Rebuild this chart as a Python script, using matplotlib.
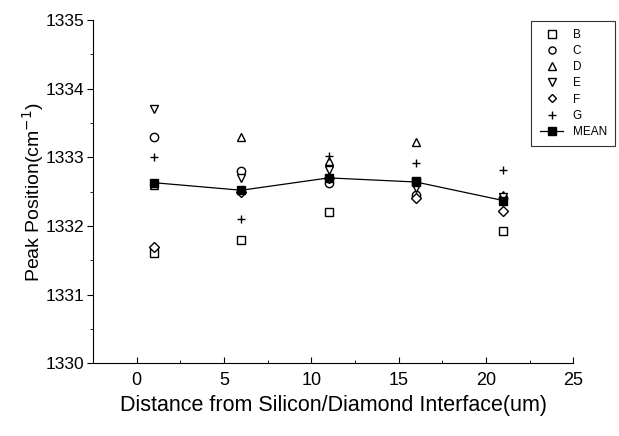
import matplotlib.pyplot as plt

plt.rcParams["font.family"] = ["Liberation Sans", "DejaVu Sans"]

# distance from interface (um)
distance = [1, 6, 11, 16, 21]

# peak positions per sample series (cm^-1)
series_b = [1331.60, 1331.80, 1332.20, 1332.65, 1331.92]
series_c = [1333.30, 1332.80, 1332.62, 1332.45, 1332.40]
series_d = [1332.60, 1333.30, 1332.95, 1333.22, 1332.45]
series_e = [1333.70, 1332.70, 1332.82, 1332.55, 1332.42]
series_f = [1331.70, 1332.50, 1332.70, 1332.40, 1332.22]
series_g = [1333.00, 1332.10, 1333.02, 1332.92, 1332.82]
series_mean = [1332.63, 1332.52, 1332.70, 1332.64, 1332.37]

labels = ["B", "C", "D", "E", "F", "G"]
markers = ["s", "o", "^", "v", "D", "+"]

fig = plt.figure(figsize=(6.19, 4.36), dpi=100)
ax = fig.add_axes([0.150, 0.167, 0.776, 0.787])

all_series = [series_b, series_c, series_d, series_e, series_f, series_g]
for vals, lab, mk in zip(all_series, labels, markers):
    ms = 5 if mk == "D" else 6
    ax.plot(distance, vals, linestyle="none", marker=mk, markersize=ms,
            markerfacecolor="white" if mk != "+" else "black",
            markeredgecolor="black", markeredgewidth=1.0, color="black", label=lab)

ax.plot(distance, series_mean, color="black", linewidth=0.9, marker="s",
        markersize=6, markerfacecolor="black", label="MEAN")

ax.set_xlim(-2.5, 25)
ax.set_ylim(1330, 1335)
ax.set_xticks([0, 5, 10, 15, 20, 25])
ax.set_xticks([-2.5, 2.5, 7.5, 12.5, 17.5, 22.5], minor=True)
ax.set_yticks([1330, 1331, 1332, 1333, 1334, 1335])
ax.set_yticks([1330.5, 1331.5, 1332.5, 1333.5, 1334.5], minor=True)

ax.spines["top"].set_visible(False)
ax.spines["right"].set_visible(False)
ax.tick_params(axis="x", direction="in", labelsize=13, length=4, pad=6)
ax.tick_params(axis="y", direction="out", labelsize=12.5, length=4, pad=2)
ax.tick_params(which="minor", length=2)
ax.tick_params(axis="x", which="minor", direction="in")

ax.set_xlabel("Distance from Silicon/Diamond Interface(um)", fontsize=15.5, labelpad=5)
ax.set_ylabel("Peak Position(cm$^{-1}$)", fontsize=14, labelpad=0)

leg = ax.legend(loc="upper right", bbox_to_anchor=(1.10, 1.015), fontsize=8.5,
                frameon=True, fancybox=False, edgecolor="black",
                handlelength=2.0, labelspacing=0.35, borderpad=0.7,
                handletextpad=0.8, markerscale=0.85)
leg.get_frame().set_linewidth(0.8)

fig.savefig("out.png", dpi=100)
